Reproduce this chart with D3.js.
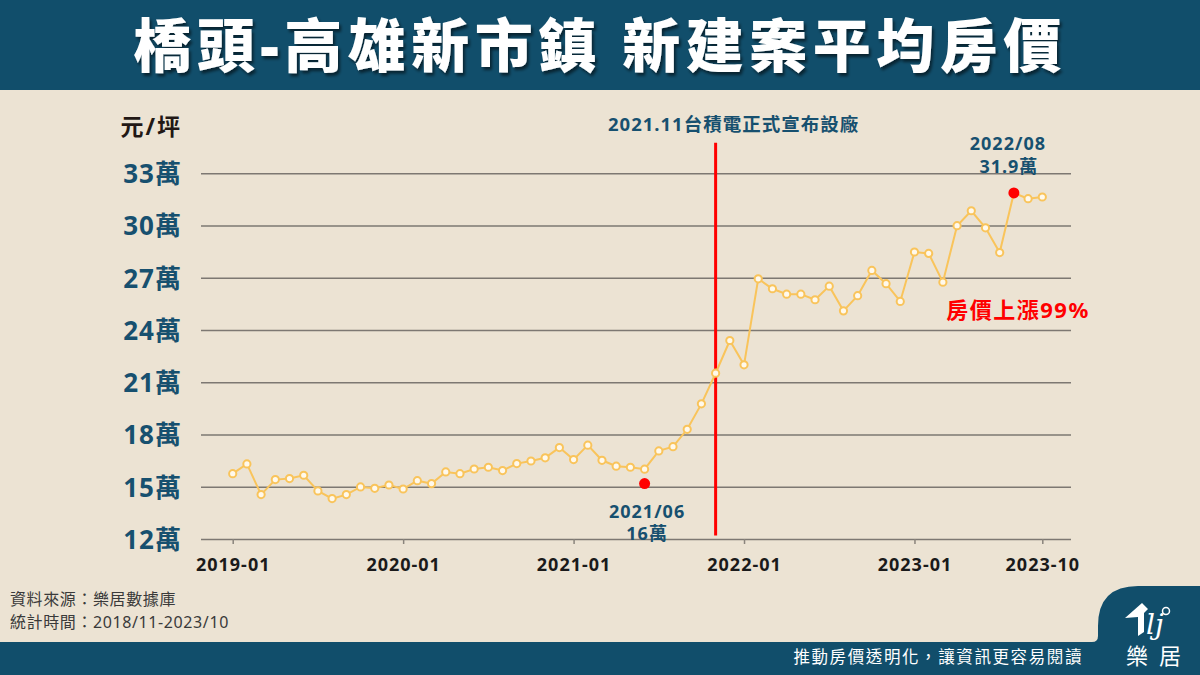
<!DOCTYPE html>
<html><head><meta charset="utf-8">
<script src="https://cdn.jsdelivr.net/npm/d3@7"></script>
<style>body{margin:0;background:#ECE3D3;} svg{display:block}</style>
</head><body><svg id="c" width="1200" height="675"></svg>
<script>
// ---- data ----
const months = [
 "2019-01","2019-02","2019-03","2019-04","2019-05","2019-06","2019-07","2019-08","2019-09","2019-10","2019-11","2019-12",
 "2020-01","2020-02","2020-03","2020-04","2020-05","2020-06","2020-07","2020-08","2020-09","2020-10","2020-11","2020-12",
 "2021-01","2021-02","2021-03","2021-04","2021-05","2021-06","2021-07","2021-08","2021-09","2021-10","2021-11","2021-12",
 "2022-01","2022-02","2022-03","2022-04","2022-05","2022-06","2022-07","2022-08","2022-09","2022-10","2022-11","2022-12",
 "2023-01","2023-02","2023-03","2023-04","2023-05","2023-06","2023-07","2023-08","2023-09","2023-10"];
const prices = [
 15.75,16.31,14.55,15.41,15.47,15.66,14.76,14.32,14.55,14.99,14.91,15.10,
 14.87,15.35,15.18,15.85,15.75,16.02,16.12,15.93,16.33,16.48,16.66,17.25,
 16.56,17.39,16.52,16.18,16.12,16.01,17.06,17.30,18.30,19.76,21.52,23.40,
 22.00,26.94,26.37,26.06,26.06,25.74,26.52,25.10,25.97,27.42,26.66,25.64,
 28.48,28.40,26.75,29.99,30.85,29.87,28.45,31.87,31.54,31.64];
const yTicks = [12,15,18,21,24,27,30,33];
const xTicks = ["2019-01","2020-01","2021-01","2022-01","2023-01","2023-10"];
const highlightMonths = ["2021-06","2023-08"];
const highlightValues = [15.18,31.87];
const highlightLabels = [["2021/06","16萬"],["2022/08","31.9萬"]];
const eventMonth = "2021-11";
const eventLabel = "2021.11台積電正式宣布設廠";
const title = "橋頭-高雄新市鎮 新建案平均房價";
const yUnit = "元/坪";
const riseLabel = "房價上漲99%";
const sourceLines = ["資料來源：樂居數據庫","統計時間：2018/11-2023/10"];
const slogan = "推動房價透明化，讓資訊更容易閱讀";

// ---- setup ----
const svg = d3.select("#c");
const FONT = "'Noto Sans','Noto Sans CJK TC',sans-serif";
const teal = "#114E6B", labelTeal = "#17506F", lineCol = "#F9C45B";
svg.append("rect").attr("width",1200).attr("height",675).attr("fill","#ECE3D3");

const defs = svg.append("defs");
const f = defs.append("filter").attr("id","sh").attr("x","-10%").attr("y","-20%").attr("width","120%").attr("height","150%");
f.append("feDropShadow").attr("dx",2).attr("dy",3).attr("stdDeviation",1.5).attr("flood-color","#000").attr("flood-opacity",0.55);

// title bar
svg.append("rect").attr("x",0).attr("y",0).attr("width",1200).attr("height",90).attr("fill",teal);
svg.append("text").text(title).attr("x",600).attr("y",67).attr("text-anchor","middle")
  .attr("font-family",FONT).attr("font-weight",900).attr("font-size",58).attr("letter-spacing",5.5)
  .attr("fill","#fff").attr("filter","url(#sh)");

// scales
const x = d3.scalePoint().domain(months).range([232.7,1042.3]);
const y = d3.scaleLinear().domain([12,33]).range([539,173.3]);

// y axis with gridlines
const gy = svg.append("g").attr("transform","translate(201,0)")
  .call(d3.axisLeft(y).tickValues(yTicks).tickSize(-870).tickPadding(19).tickFormat(d=>d+"萬"));
gy.select(".domain").remove();
gy.selectAll(".tick line").attr("stroke","#7d7872").attr("stroke-width",1.5);
gy.selectAll(".tick text").attr("font-family",FONT).attr("font-weight",700).attr("font-size",26)
  .attr("letter-spacing",1).attr("fill",labelTeal).attr("dy","0.36em");

svg.append("text").text(yUnit).attr("x",182).attr("y",135).attr("text-anchor","end")
  .attr("font-family",FONT).attr("font-weight",700).attr("font-size",23).attr("letter-spacing",2).attr("fill","#221815");

// x axis
const gx = svg.append("g").attr("transform","translate(0,539)")
  .call(d3.axisBottom(x).tickValues(xTicks).tickSize(5).tickPadding(14.5));
gx.select(".domain").remove();
gx.selectAll(".tick line").attr("stroke","#8a847c").attr("stroke-width",1.5);
gx.selectAll(".tick text").attr("font-family",FONT).attr("font-weight",700).attr("font-size",18)
  .attr("letter-spacing",1).attr("fill","#1a1a1a");

// event line
svg.append("line").attr("x1",x(eventMonth)).attr("x2",x(eventMonth))
  .attr("y1",y(34.75)).attr("y2",y(12.2)).attr("stroke","#FF0000").attr("stroke-width",3);
svg.append("text").text(eventLabel).attr("x",x(eventMonth)+18).attr("y",131).attr("text-anchor","middle")
  .attr("font-family",FONT).attr("font-weight",700).attr("font-size",18.5).attr("letter-spacing",1).attr("fill",labelTeal);

// data line
const data = months.map((m,i)=>({m,v:prices[i]}));
svg.append("path").datum(data).attr("fill","none").attr("stroke",lineCol).attr("stroke-width",2)
  .attr("d",d3.line().x(d=>x(d.m)).y(d=>y(d.v)));
svg.selectAll("circle.pt").data(data).join("circle").attr("class","pt")
  .attr("cx",d=>x(d.m)).attr("cy",d=>y(d.v)).attr("r",3.6)
  .attr("fill","#FFF9EC").attr("stroke",lineCol).attr("stroke-width",2);

// highlights
const hl = highlightMonths.map((m,i)=>({m,v:highlightValues[i],lab:highlightLabels[i]}));
svg.selectAll("circle.hl").data(hl).join("circle").attr("class","hl")
  .attr("cx",d=>x(d.m)).attr("cy",d=>y(d.v)).attr("r",5.5).attr("fill","#FF0000");
const labStyle = s => s.attr("font-family",FONT).attr("font-weight",700).attr("font-size",18)
  .attr("letter-spacing",1).attr("fill",labelTeal).attr("text-anchor","middle");
svg.append("text").call(labStyle).attr("x",x(hl[0].m)+2.5).attr("y",y(hl[0].v)+34).text(hl[0].lab[0]);
svg.append("text").call(labStyle).attr("x",x(hl[0].m)+2.5).attr("y",y(hl[0].v)+56).text(hl[0].lab[1]);
svg.append("text").call(labStyle).attr("x",x(hl[1].m)-6).attr("y",y(hl[1].v)-42.5).text(hl[1].lab[0]);
svg.append("text").call(labStyle).attr("x",x(hl[1].m)-5).attr("y",y(hl[1].v)-19.5).text(hl[1].lab[1]);

svg.append("text").text(riseLabel).attr("x",1018).attr("y",318).attr("text-anchor","middle")
  .attr("font-family",FONT).attr("font-weight",700).attr("font-size",22).attr("letter-spacing",1.5).attr("fill","#FF0000");

// footer source
svg.append("g").selectAll("text").data(sourceLines).join("text").text(d=>d)
  .attr("x",10).attr("y",(d,i)=>605+i*22.5)
  .attr("font-family",FONT).attr("font-size",16).attr("letter-spacing",0.6).attr("fill","#3a3a3a");

// bottom bar with tab
svg.append("path").attr("fill",teal)
  .attr("d","M0,642 H1092 Q1098,642 1098,636 V626 Q1098,586 1138,586 H1200 V675 H0 Z");
svg.append("text").text(slogan).attr("x",1083).attr("y",663).attr("text-anchor","end")
  .attr("font-family",FONT).attr("font-size",16.5).attr("letter-spacing",1.6).attr("fill","#fff");

// logo
const lg = svg.append("g").attr("fill","#fff");
lg.append("path").attr("d","M1125,618 L1142,603 L1148,609 L1144,613 L1144,632 L1138,636 L1138,617 Z");
lg.append("text").text("lj").attr("x",1146).attr("y",634).attr("font-family","'DejaVu Serif',serif")
  .attr("font-style","italic").attr("font-size",28).attr("fill","#fff");
lg.append("circle").attr("cx",1166).attr("cy",611).attr("r",3.5).attr("fill","none").attr("stroke","#fff").attr("stroke-width",1.5);
lg.append("text").text("樂").attr("x",1137).attr("y",664).attr("text-anchor","middle")
  .attr("font-family",FONT).attr("font-size",22).attr("fill","#fff");
lg.append("text").text("居").attr("x",1170).attr("y",664).attr("text-anchor","middle")
  .attr("font-family",FONT).attr("font-size",22).attr("fill","#fff");
</script></body></html>
